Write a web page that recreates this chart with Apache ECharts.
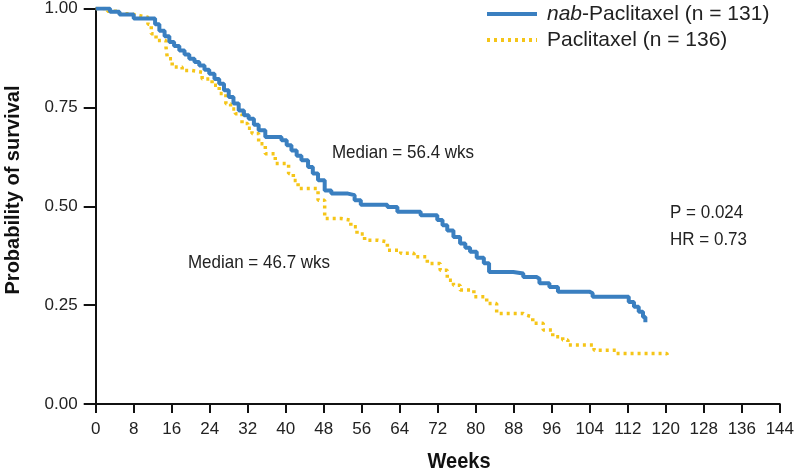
<!DOCTYPE html>
<html><head><meta charset="utf-8">
<script src="https://cdn.jsdelivr.net/npm/echarts@6/dist/echarts.min.js"></script>
<style>html,body{margin:0;padding:0;background:#fff}#c{width:797px;height:471px}</style>
</head><body><div id="c"></div>
<script>
const xTicks = [0,8,16,24,32,40,48,56,64,72,80,88,96,104,112,120,128,136,144];
const yTicks = [0,0.25,0.5,0.75,1.0];
const nabName = '{i|nab}-Paclitaxel (n = 131)';
const pacName = 'Paclitaxel (n = 136)';
const nabWeeks = [0,3,5,8,11.7,12.5,13.4,14.5,15.5,16.5,17.6,18.7,19.7,20.8,21.8,22.9,23.9,25,26,27,28,29,30.1,31.2,32.2,33.3,34.3,35.7,39.1,40.2,41.2,42.3,43.3,44.7,45.7,46.8,48.2,49.6,53.1,54.5,55.8,61.4,63.5,68.4,71.9,73,74,75.3,76.7,77.8,78.8,80.2,81.7,82.8,87.9,90,92.8,93.4,95.5,97.3,103.9,104.6,111.6,112.2,113.3,114.3,115.2,115.7];
const nabSurv  = [1.0,0.992,0.985,0.975,0.975,0.96,0.944,0.93,0.915,0.905,0.894,0.884,0.873,0.865,0.856,0.845,0.835,0.822,0.81,0.793,0.776,0.76,0.742,0.73,0.721,0.706,0.692,0.675,0.667,0.654,0.641,0.628,0.616,0.599,0.583,0.566,0.54,0.532,0.528,0.515,0.504,0.498,0.486,0.477,0.465,0.452,0.439,0.422,0.406,0.395,0.385,0.37,0.356,0.334,0.33,0.321,0.317,0.305,0.296,0.284,0.28,0.271,0.271,0.258,0.246,0.233,0.22,0.207];
const pacWeeks = [0,2.5,5,7,9.3,11,11.7,12.7,14.8,15.1,16.1,18.2,20.3,22.4,24.5,26,27.4,28.4,29.4,30.8,32,32.9,34.3,35.7,37.8,40.6,41.6,42.6,45.4,46.8,48.2,51.6,53.7,55,56.6,59.4,61.4,64.2,67,69.8,72.5,74,75.3,76.7,79.6,82.3,84.4,90,90.5,92,94.2,96.2,98.3,99.4,103.9,104.9,109.5,120.2,120.5];
const pacSurv  = [1.0,0.993,0.987,0.982,0.978,0.96,0.936,0.919,0.902,0.873,0.852,0.843,0.839,0.822,0.806,0.785,0.759,0.746,0.734,0.709,0.697,0.684,0.658,0.633,0.608,0.583,0.565,0.545,0.545,0.515,0.469,0.465,0.448,0.43,0.414,0.41,0.389,0.381,0.372,0.355,0.338,0.313,0.3,0.288,0.271,0.254,0.229,0.225,0.22,0.204,0.187,0.17,0.162,0.149,0.149,0.136,0.128,0.128,0.119];
const annotations = ['Median = 56.4 wks','Median = 46.7 wks','P = 0.024','HR = 0.73'];

const font = 'Liberation Sans, Arial, sans-serif';
const chart = echarts.init(document.getElementById('c'), null, {renderer:'canvas'});
const txt = (s, x, y, size, align, bold) => ({type:'text', x:x, y:y, scaleY:1.12,
  style:{text:s, font:(bold?'bold ':'')+size+'px '+font, fill:bold?'#111':'#222', align:align, verticalAlign:'middle'}});
chart.setOption({
  animation:false,
  backgroundColor:'#fff',
  grid:{left:95.7, right:11.3, top:8, bottom:67, containLabel:false},
  legend:{
    orient:'vertical', left:485, top:3, padding:0, itemWidth:50, itemHeight:4, itemGap:4,
    itemStyle:{opacity:0},
    lineStyle:{width:4},
    textStyle:{fontFamily:font, fontSize:21, color:'#222', lineHeight:22, padding:[0,0,0,5],
      rich:{i:{fontStyle:'italic', fontFamily:font, fontSize:21, color:'#222', lineHeight:22}}},
    data:[{name:nabName},{name:pacName}]
  },
  xAxis:{
    type:'value', min:0, max:144, interval:8,
    axisLine:{show:true, lineStyle:{color:'#111', width:2}},
    axisTick:{show:true, length:9, lineStyle:{color:'#111', width:2}},
    axisLabel:{fontFamily:font, fontSize:17, color:'#222', margin:17},
    splitLine:{show:false}
  },
  yAxis:{
    type:'value', min:0, max:1, interval:0.25,
    axisLine:{show:true, lineStyle:{color:'#111', width:2}},
    axisTick:{show:true, length:12, lineStyle:{color:'#111', width:2}},
    axisLabel:{fontFamily:font, fontSize:17, color:'#222', margin:18, formatter:v=>v.toFixed(2)},
    splitLine:{show:false}
  },
  graphic:[
    {type:'text', x:13, y:190, rotation:Math.PI/2,
     style:{text:'Probability of survival', font:'bold 20px '+font, fill:'#111', align:'center', verticalAlign:'middle'}},
    txt('Weeks', 459, 462, 20, 'center', true),
    txt(annotations[0], 403, 153, 17, 'center', false),
    txt(annotations[1], 259, 263, 17, 'center', false),
    txt(annotations[2], 670, 213, 17, 'left', false),
    txt(annotations[3], 670, 240, 17, 'left', false)
  ],
  series:[
    {name:pacName, type:'line', step:'end', symbol:'none', z:2,
     lineStyle:{color:'#f5c518', width:3.5, type:[3,4]}, itemStyle:{color:'#f5c518'},
     data:pacWeeks.map((w,i)=>[w,pacSurv[i]])},
    {name:nabName, type:'line', step:'end', symbol:'none', z:3,
     lineStyle:{color:'#3a7fc0', width:4}, itemStyle:{color:'#3a7fc0'},
     data:nabWeeks.map((w,i)=>[w,nabSurv[i]])}
  ]
});
</script></body></html>
